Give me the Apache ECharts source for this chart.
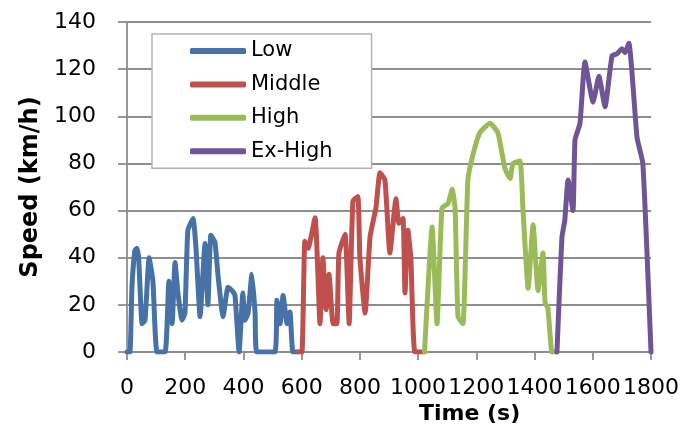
<!DOCTYPE html>
<html>
<head>
<meta charset="utf-8">
<script src="https://cdn.jsdelivr.net/npm/echarts@6/dist/echarts.min.js"></script>
<style>
  html, body { margin: 0; padding: 0; background: #fff; }
  #chart { width: 682px; height: 428px; }
</style>
</head>
<body>
<div id="chart"></div>
<script>
// Speed trace of the four phases, [time (s), speed (km/h)]
const lowPhase = [
  [0,0],[10,0],[17,27.5],[27,43],[34,44],[40,40],[52,12],[62,13.5],[76,40],[89,30],[103,0],
  [131,0],[144,30],[155,12],[165,38],[175,25],[189,13.5],[199,16.5],[209,51.6],[227,56.6],
  [237,44],[251,15],[268,46],[278,20],[288,49.5],[302,46.6],[313,32],[330,15],[347,27.5],
  [361,26],[371,24],[385,0],[398,25],[405,13.5],[416,16.5],[429,33],[440,16.5],[446,0],
  [508,0],[515,22],[526,12],[536,24],[550,12],[560,17],[570,0],[589,0]
];
const middlePhase = [
  [589,0],[601,0],[611,47],[622,44],[646,57],[663,12],[673,40],[684,18],[694,33],[708,12],
  [721,12],[728,42],[749,50],[763,12],[776,64],[793,66],[800,40],[818,16.5],[835,49],
  [855,61],[869,76],[886,73],[903,42],[924,65],[934,54.6],[948,56.6],[955,25],[965,51.6],
  [975,40],[989,0],[1022,0]
];
const highPhase = [
  [1022,0],[1048,53],[1065,12],[1082,61],[1103,63],[1117,69],[1127,61],[1137,15],[1154,12],
  [1171,73],[1189,84],[1212,93],[1247,97],[1274,93],[1298,78],[1316,73.6],[1326,80],
  [1350,81],[1360,61],[1378,27],[1395,54],[1412,26],[1429,42],[1436,21],[1446,18.5],
  [1460,0],[1477,0]
];
const exHighPhase = [
  [1477,0],[1494,48.6],[1504,56],[1515,73],[1532,60],[1539,90],[1556,97],[1573,123],
  [1601,106],[1621,117],[1642,104],[1666,125.6],[1683,126.5],[1700,128.6],[1711,127],
  [1724,131],[1752,91],[1772,80],[1800,0]
];

const phaseNames = ['Low', 'Middle', 'High', 'Ex-High'];
const phaseColors = ['#4672a8', '#c0504d', '#9bbb59', '#6f5597'];
const phaseData = [lowPhase, middlePhase, highPhase, exHighPhase];

const xTicks = { min: 0, max: 1800, step: 200 };
const yTicks = { min: 0, max: 140, step: 20 };
const xTitle = 'Time (s)';
const yTitle = 'Speed (km/h)';

const gridGray = '#8e8e8e';
const labelFont = 'DejaVu Sans';

const chart = echarts.init(document.getElementById('chart'), null, { renderer: 'canvas' });

chart.setOption({
  animation: false,
  backgroundColor: '#ffffff',
  grid: { left: 127, right: 31, top: 22, bottom: 76, containLabel: false },
  // x-axis title sits centred under the whole chart rather than under the axis
  graphic: [{
    type: 'text',
    left: 419,
    top: 403,
    style: {
      text: xTitle,
      fontFamily: labelFont,
      fontSize: 22,
      fontWeight: 'bold',
      fill: '#000',
      textAlign: 'center'
    }
  }],
  legend: {
    orient: 'vertical',
    left: 152,
    top: 34,
    data: phaseNames.map(n => ({ name: n, icon: 'roundRect' })),
    itemWidth: 56,
    itemHeight: 6,
    itemGap: 9.4,
    padding: [5, 39, 5, 38],
    backgroundColor: '#ffffff',
    borderColor: '#b4b4b4',
    borderWidth: 1.5,
    borderRadius: 0,
    textStyle: { fontFamily: labelFont, fontSize: 21, color: '#000', lineHeight: 24 }
  },
  xAxis: {
    type: 'value',
    min: xTicks.min,
    max: xTicks.max,
    interval: xTicks.step,
    axisLine: { show: true, lineStyle: { color: gridGray, width: 1.8 } },
    axisTick: { show: true, inside: false, length: 8, lineStyle: { color: gridGray, width: 1.8 } },
    axisLabel: {
      fontFamily: labelFont, fontSize: 22, color: '#000', margin: 25,
      showMinLabel: true, showMaxLabel: true, hideOverlap: false,
      formatter: v => String(v)
    },
    splitLine: { show: false }
  },
  yAxis: {
    type: 'value',
    min: yTicks.min,
    max: yTicks.max,
    interval: yTicks.step,
    name: yTitle,
    nameLocation: 'middle',
    nameGap: 81,
    nameTextStyle: { fontFamily: labelFont, fontSize: 24, fontWeight: 'bold', color: '#000' },
    axisLine: { show: true, lineStyle: { color: gridGray, width: 1.8 } },
    axisTick: { show: true, inside: false, length: 9, lineStyle: { color: gridGray, width: 1.8 } },
    axisLabel: {
      fontFamily: labelFont, fontSize: 22, color: '#000', margin: 31,
      formatter: v => String(v)
    },
    splitLine: { show: true, lineStyle: { color: gridGray, width: 1.8 } }
  },
  series: phaseNames.map((name, i) => ({
    name: name,
    type: 'line',
    data: phaseData[i],
    showSymbol: false,
    symbol: 'none',
    smooth: 0.15,
    color: phaseColors[i],
    lineStyle: { width: 5, color: phaseColors[i], cap: 'round', join: 'round' },
    z: 3
  }))
});
</script>
</body>
</html>
